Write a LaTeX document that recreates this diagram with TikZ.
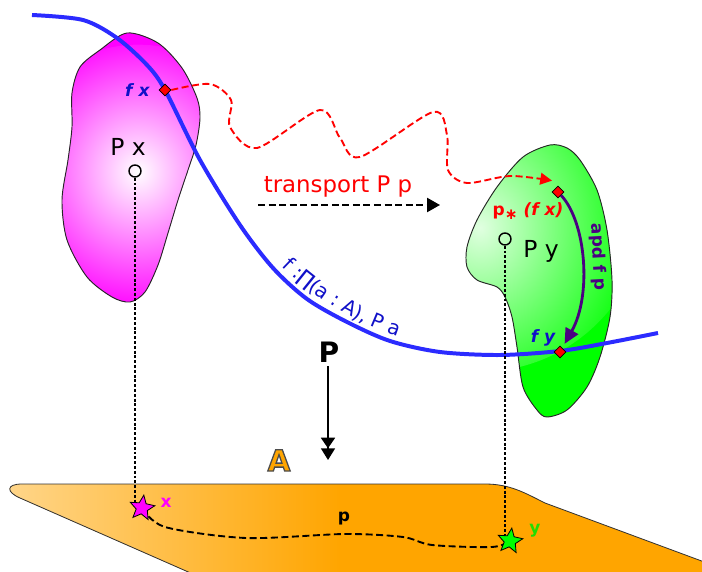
\documentclass[tikz,border=0pt]{standalone}
\usepackage{fontspec}
\setmainfont{DejaVu Sans}[ItalicFont={DejaVu Sans Oblique},BoldFont={DejaVu Sans Bold},BoldItalicFont={DejaVu Sans Bold Oblique}]
\usepackage{tikz}
\usetikzlibrary{
  shapes.geometric,
  arrows.meta,
  positioning, calc,
  decorations.text
}
\usepackage{xcolor}

\definecolor{curveblue}{HTML}{2B2BFF}
\definecolor{textblue}{HTML}{1010C8}
\definecolor{planeorange}{HTML}{FFA500}
\definecolor{apdpurple}{HTML}{4B0082}
\definecolor{fibermagenta}{HTML}{FF00FF}
\definecolor{fibergreen}{HTML}{00FF00}
\definecolor{ygreen}{HTML}{22DD00}
\newcommand{\setfs}[1]{\fontsize{#1}{#1}\selectfont}
\newcommand{\outlined}[1]{\special{pdf:literal direct 2 Tr 1.1 w 0.3 G}#1\special{pdf:literal direct 0 Tr 0.4 w 0 G}}
\newcommand{\planeshape}{(22,484) -- (485,484) .. controls (510,484) and (525,493) .. (545,503)
    -- (915,640) -- (343,640) -- (20,498) .. controls (6,492) and (6,484) .. (22,484) -- cycle}

\tikzset{
  fiberline/.style={draw=black!85, line width=0.8pt},
  ptdiamond/.style={diamond, fill=red, draw=black, line width=0.6pt, inner sep=0pt, minimum size=0.36cm},
  basecircle/.style={circle, draw=black, line width=1.2pt, inner sep=0pt, minimum size=0.36cm},
  dropline/.style={black, line width=1.1pt, dash pattern=on 2.5pt off 1.6pt},
  basestar/.style={star, star points=5, star point ratio=2.2, draw=black, line width=0.7pt, inner sep=0pt, minimum size=0.78cm, shape border rotate=-8}
}

\begin{document}
\begin{tikzpicture}[x=0.03cm, y=-0.03cm]
  \useasboundingbox (0,0) rectangle (702,572);

  % Base space A
  \begin{scope}
    \clip \planeshape;
    \fill[planeorange] (0,470) rectangle (702,572);
    \shade[left color=planeorange!45!white, right color=planeorange] (0,478) rectangle (340,572);
  \end{scope}
  \draw[draw=black!80, line width=0.7pt] \planeshape;

  % Fibre over x
  \draw[fiberline, fill=fibermagenta, path picture={\shade[inner color=white, outer color=fibermagenta] (138,178) circle (4cm);}]
    plot[smooth cycle] coordinates {(127,33) (100,50) (80,67) (72,93) (72,127) (68,160) (62,200) (67,240)
      (87,277) (112,297) (130,302) (145,292) (158,265) (168,233) (178,200) (188,170) (196,145)
      (200,118) (197,98) (182,68) (158,43)};

  % Fibre over y
  \draw[fiberline, fill=fibergreen, path picture={\shade[inner color=fibergreen!12!white, outer color=fibergreen] (480,205) circle (5cm);}]
    plot[smooth cycle] coordinates {(550,145) (523,157) (497,187) (477,220) (467,247) (467,267) (477,280)
      (497,287) (505,297) (512,317) (517,347) (523,387) (537,410) (547,417) (567,410) (587,387)
      (600,357) (610,317) (612,280) (607,230) (597,190) (580,160) (567,148)};

  % Section f
  \draw[curveblue, line width=3.4pt] plot[smooth] coordinates {(32,15) (83,20) (117,38) (147,65) (165,90)
    (200,160) (240,225) (273,268) (307,299) (347,322) (390,341) (440,352) (500,355) (560,351)
    (607,343) (658,333)};
  \path[decorate, decoration={text along path, raise=4pt, text align=center, text color=textblue,
        text={|\setfs{17}|f :∏(a : A), P a}}]
    (262,252) .. controls (295,292) and (350,330) .. (420,348);

  % Points in the fibres
  \node[basecircle] (pxdot) at (135,171) {};
  \node[basecircle] (pydot) at (505,239) {};
  \node[font=\setfs{20}, anchor=base] (pxlbl) at (128,156) {P x};
  \node[font=\setfs{20}, anchor=base] (pylbl) at (541,258) {P y};

  % Points in A
  \coordinate (xpos) at (142,508);
  \coordinate (ypos) at (510,541);
  \draw[dropline] (pxdot) -- (pxdot |- xpos);
  \draw[dropline] (pydot) -- (pydot |- ypos);
  \draw[black, line width=1.6pt, dash pattern=on 6pt off 3pt]
    plot[smooth] coordinates {(xpos) (165,527) (246,538) (345,534) (403,537) (432,545) (492,547) (ypos)};
  \node[basestar, fill=fibermagenta] (xstar) at (xpos) {};
  \node[basestar, fill=fibergreen] (ystar) at (ypos) {};
  \node[font=\setfs{14.5}\bfseries, text=fibermagenta, anchor=base] (xlbl) at (166,507) {x};
  \node[font=\setfs{14.5}\bfseries, text=ygreen, anchor=base] (ylbl) at (535,533) {y};
  \node[font=\setfs{14.5}\bfseries, anchor=base] (plbl) at (344,521) {p};
  \node[font=\setfs{25}\bfseries, text=planeorange, anchor=base] (Albl) at (279,471) {\outlined{A}};

  % Values of f
  \node[ptdiamond] (fxpt) at (165,90) {};
  \node[ptdiamond] (pfxpt) at (558,192) {};
  \node[ptdiamond] (fypt) at (560,352) {};
  \node[font=\setfs{14.5}\bfseries\itshape, text=textblue, left=0.15cm of fxpt] (fxlbl) {f x};
  \node[font=\setfs{14.5}\bfseries\itshape, text=textblue, anchor=base] (fylbl) at (543,342) {f y};
  \node[font=\setfs{14.5}\bfseries, text=red, anchor=base] (pfxlbl) at (528,216)
    {p\raisebox{-0.35ex}{\setfs{13}∗} \textit{(f x)}};

  % Transport
  \draw[red, line width=1.6pt, dash pattern=on 6pt off 3pt, -{Triangle[length=10pt,width=10pt]}]
    plot[smooth] coordinates {(fxpt.east) (210,84) (231,100) (230,127) (257,148) (320,110) (340,138)
      (360,157) (433,112) (447,135) (448,170) (467,183) (510,176) ($(pfxpt.north)+(-6,-5)$)};
  \node[font=\setfs{19.5}, text=red, anchor=base] (transp) at (338,193) {transport P p};
  \coordinate (tstart) at (258,205);
  \coordinate (tend) at (440,205);
  \draw[black, line width=1.6pt, dash pattern=on 6pt off 3pt, -{Triangle[length=11pt,width=12pt]}]
    (tstart) -- (tend);

  % apd f p
  \draw[apdpurple, line width=2.4pt, -{Triangle[length=13pt,width=12pt]}, shorten >=4pt]
    (pfxpt) .. controls (586,222) and (592,295) .. (fypt);
  \node[font=\setfs{14.5}\bfseries, text=apdpurple, rotate=-87] (apdlbl) at (598,257) {apd f p};

  % Projection
  \node[font=\setfs{24}\bfseries, anchor=base] (bigP) at (329,362) {P};
  \coordinate (pend) at (328,460);
  \draw[black, line width=1.4pt, -{Triangle[length=9pt,width=12pt]Triangle[length=10pt,width=12pt]}]
    (pend |- bigP.south) -- (pend);

\end{tikzpicture}
\end{document}
